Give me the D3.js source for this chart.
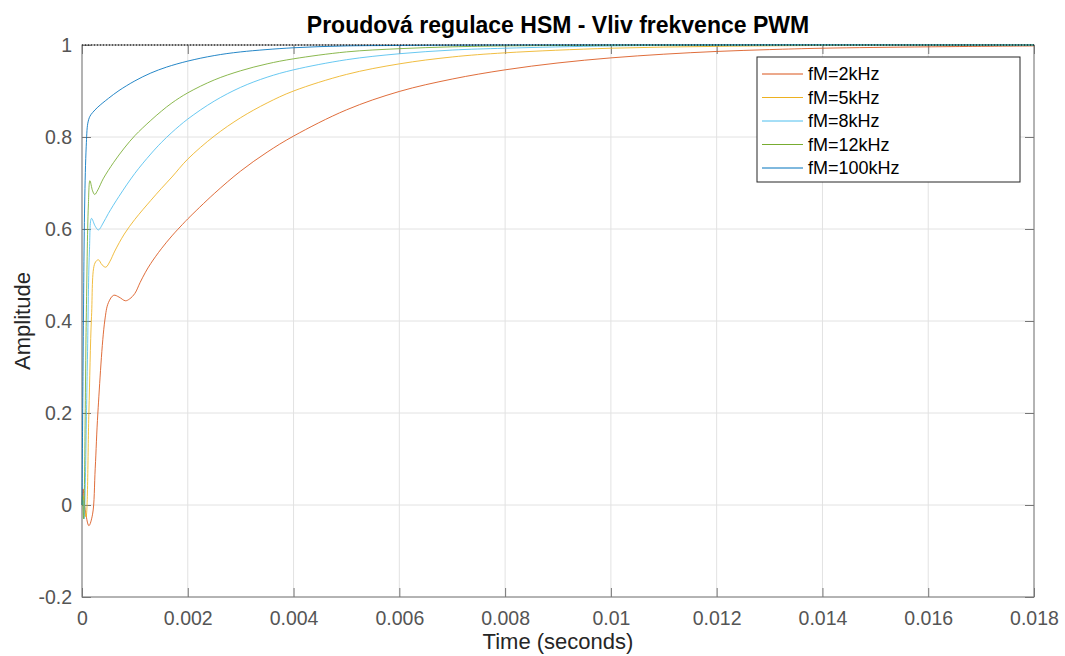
<!DOCTYPE html>
<html>
<head>
<meta charset="utf-8">
<script src="https://cdn.jsdelivr.net/npm/d3@7"></script>
<style>
  body { margin: 0; background: #fff; }
  svg { font-family: "Liberation Sans", Arial, sans-serif; }
</style>
</head>
<body>
<div id="chart"></div>
<script>
// step responses: [time (s), amplitude]
var fm2 = [[0,0],[0.00002,0.035],[0.00006,-0.01],[0.00013,-0.045],[0.0002,-0.02],[0.00025,0.08],[0.0003,0.2],
  [0.00043,0.4],[0.0005,0.44],[0.0006,0.456],[0.0007,0.452],[0.00082,0.444],[0.0009,0.448],[0.001,0.46],
  [0.0011,0.484],[0.0012,0.506],[0.0013,0.525],[0.0015,0.557],[0.0017,0.585],[0.0019,0.61],[0.002,0.622],
  [0.0025,0.677],[0.003,0.726],[0.0035,0.767],[0.004,0.802],[0.005,0.859],[0.006,0.899],[0.007,0.926],
  [0.008,0.946],[0.009,0.961],[0.01,0.972],[0.011,0.98],[0.012,0.986],[0.013,0.99],[0.014,0.993],
  [0.016,0.996],[0.018,0.998]]
var fm5 = [[0,0],[0.00002,0.02],[0.000075,-0.026],[0.00013,0.2],[0.00018,0.41],[0.000245,0.526],[0.00031,0.533],
  [0.00038,0.522],[0.00045,0.517],[0.00053,0.53],[0.00062,0.552],[0.0008,0.589],[0.001,0.621],[0.0013,0.662],
  [0.0015,0.688],[0.0017,0.713],[0.002,0.752],[0.0025,0.802],[0.003,0.842],[0.0035,0.874],[0.004,0.9],
  [0.005,0.936],[0.006,0.959],[0.007,0.974],[0.008,0.983],[0.01,0.993],[0.012,0.997],[0.014,0.999],[0.018,1]]
var fm8 = [[0,0],[0.00002,0.01],[0.00004,-0.03],[0.0001,0.3],[0.00014,0.55],[0.00018,0.623],[0.00025,0.606],
  [0.00031,0.598],[0.0004,0.613],[0.0005,0.634],[0.0007,0.671],[0.001,0.721],[0.0013,0.763],[0.0015,0.788],
  [0.0017,0.81],[0.002,0.839],[0.0025,0.878],[0.003,0.908],[0.0035,0.93],[0.004,0.946],[0.005,0.968],
  [0.006,0.981],[0.007,0.989],[0.008,0.993],[0.01,0.998],[0.012,0.9995],[0.018,1]]
var fm12 = [[0,0],[0.00001,0.02],[0.00003,-0.03],[0.00008,0.4],[0.00012,0.65],[0.00015,0.705],[0.0002,0.683],
  [0.00024,0.675],[0.0003,0.685],[0.0004,0.709],[0.0006,0.745],[0.0008,0.776],[0.001,0.803],[0.0013,0.836],
  [0.0015,0.856],[0.0017,0.874],[0.002,0.896],[0.0025,0.924],[0.003,0.944],[0.0035,0.959],[0.004,0.97],
  [0.005,0.985],[0.006,0.992],[0.007,0.996],[0.008,0.998],[0.01,0.9995],[0.018,1]]
var fm100 = [[0,0],[0.00002,0.3],[0.00005,0.65],[0.00008,0.78],[0.00011,0.83],[0.00015,0.845],[0.0002,0.853],
  [0.0003,0.865],[0.0005,0.884],[0.0007,0.901],[0.001,0.922],[0.0013,0.939],[0.0016,0.952],[0.002,0.965],
  [0.0025,0.977],[0.003,0.985],[0.004,0.994],[0.005,0.998],[0.006,0.999],[0.008,1],[0.018,1]]

var seriesNames = ['fM=2kHz','fM=5kHz','fM=8kHz','fM=12kHz','fM=100kHz']
var seriesColors = ['#D95319','#EDB120','#4DBEEE','#77AC30','#0072BD']
var seriesData = [fm2, fm5, fm8, fm12, fm100]

var xTicks = [0,0.002,0.004,0.006,0.008,0.01,0.012,0.014,0.016,0.018]
var xTickLabels = ['0','0.002','0.004','0.006','0.008','0.01','0.012','0.014','0.016','0.018']
var yTicks = [-0.2,0,0.2,0.4,0.6,0.8,1]
var yTickLabels = ['-0.2','0','0.2','0.4','0.6','0.8','1']

var W = 1065, H = 656
var margin = {top: 45, right: 31, bottom: 59, left: 82},
    width = W - margin.left - margin.right,
    height = H - margin.top - margin.bottom

var x = d3.scaleLinear().domain([0, 0.018]).range([0, width]),
    y = d3.scaleLinear().domain([-0.2, 1]).range([height, 0])

var svg = d3.select('#chart').append('svg')
  .attr('width', W)
  .attr('height', H)

var g = svg.append('g')
  .attr('transform', `translate(${[margin.left, margin.top]})`)

// grid
g.append('g').selectAll('line').data(xTicks).enter().append('line')
  .attr('x1', d => x(d)).attr('x2', d => x(d))
  .attr('y1', 0).attr('y2', height)
  .attr('stroke', '#e2e2e2').attr('stroke-width', 1)
g.append('g').selectAll('line').data(yTicks).enter().append('line')
  .attr('x1', 0).attr('x2', width)
  .attr('y1', d => y(d)).attr('y2', d => y(d))
  .attr('stroke', '#e2e2e2').attr('stroke-width', 1)

// axes (ticks pointing inward on all four sides)
var axisColor = '#777'
function styleAxis(sel){
  sel.select('.domain').remove()
  sel.selectAll('.tick line').attr('stroke', axisColor)
  sel.selectAll('.tick text').attr('fill', '#555').style('font-size', '19.5px')
}
g.append('g')
  .attr('transform', `translate(0,${height})`)
  .call(d3.axisBottom(x).tickValues(xTicks).tickFormat((d,i) => xTickLabels[i]).tickSizeInner(-9).tickPadding(14))
  .call(styleAxis)
g.append('g')
  .call(d3.axisTop(x).tickValues(xTicks).tickFormat('').tickSizeInner(-9))
  .call(styleAxis)
g.append('g')
  .call(d3.axisLeft(y).tickValues(yTicks).tickFormat((d,i) => yTickLabels[i]).tickSizeInner(-9).tickPadding(10))
  .call(styleAxis)
g.append('g')
  .attr('transform', `translate(${width},0)`)
  .call(d3.axisRight(y).tickValues(yTicks).tickFormat('').tickSizeInner(-9))
  .call(styleAxis)

// box
g.append('rect')
  .attr('x', 0).attr('y', 0).attr('width', width).attr('height', height)
  .attr('fill', 'none').attr('stroke', axisColor).attr('stroke-width', 1)

// curves
var line = d3.line()
  .x(d => x(d[0]))
  .y(d => y(d[1]))
  .curve(d3.curveCatmullRom.alpha(0.5))

g.append('g').selectAll('path').data(seriesData).enter().append('path')
  .attr('d', line)
  .attr('fill', 'none')
  .attr('stroke', (d,i) => seriesColors[i])
  .attr('stroke-width', 1)
  .attr('stroke-opacity', 0.85)

// steady-state dotted line
g.append('line')
  .attr('x1', 0).attr('x2', width)
  .attr('y1', y(1)).attr('y2', y(1))
  .attr('stroke', '#000').attr('stroke-width', 1)
  .attr('stroke-dasharray', '1,2')

// legend
var lg = svg.append('g').attr('transform', 'translate(757,57)')
lg.append('rect')
  .attr('width', 263).attr('height', 125)
  .attr('fill', '#fff').attr('stroke', '#262626').attr('stroke-width', 1)
var item = lg.selectAll('.item').data(seriesNames).enter().append('g')
  .attr('class', 'item')
  .attr('transform', (d,i) => `translate(0,${17 + i * 23.5})`)
item.append('line')
  .attr('x1', 5).attr('x2', 46)
  .attr('stroke', (d,i) => seriesColors[i]).attr('stroke-width', 1)
item.append('text')
  .attr('x', 51).attr('dy', '0.35em')
  .style('font-size', '18px').attr('fill', '#000')
  .text(d => d)

// title and labels
svg.append('text')
  .attr('x', margin.left + width / 2).attr('y', 33)
  .attr('text-anchor', 'middle')
  .style('font-size', '23px').style('font-weight', 'bold')
  .text('Proudová regulace HSM - Vliv frekvence PWM')
svg.append('text')
  .attr('x', margin.left + width / 2).attr('y', 649)
  .attr('text-anchor', 'middle')
  .style('font-size', '22px').attr('fill', '#262626')
  .text('Time (seconds)')
svg.append('text')
  .attr('transform', `translate(30,${margin.top + height / 2}) rotate(-90)`)
  .attr('text-anchor', 'middle')
  .style('font-size', '22px').attr('fill', '#262626')
  .text('Amplitude')
</script>
</body>
</html>
